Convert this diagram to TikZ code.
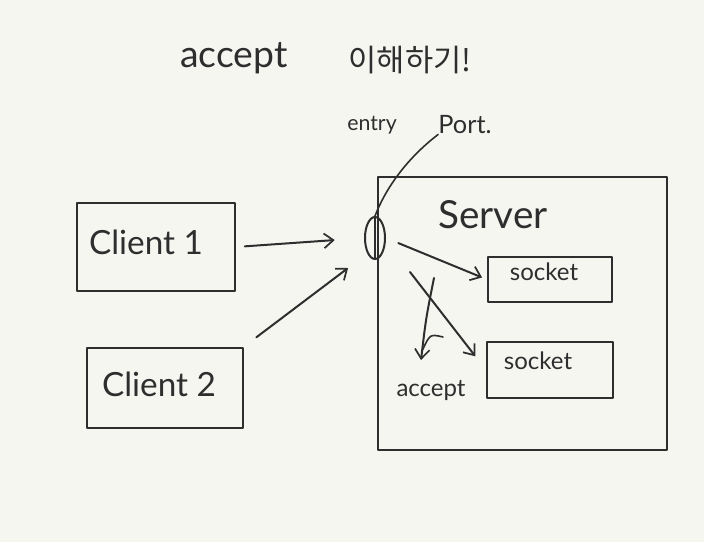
\documentclass[tikz,border=0pt]{standalone}
\usepackage{fontspec}
\setmainfont{Lato}
\newfontfamily\krfont{Noto Sans CJK KR}
\usetikzlibrary{arrows.meta,shapes.geometric}
\definecolor{ink}{HTML}{2E2E2E}
\definecolor{paper}{HTML}{F6F6F1}
\tikzset{
  pen/.style={draw=ink, line width=1.5pt, line cap=round, line join=round},
  boxnode/.style={pen, rectangle, inner sep=0pt},
  arr/.style={pen, -{Straight Barb[length=7pt,width=11pt,line width=1.3pt]}},
  txt/.style={text=ink, inner sep=0pt}
}
\begin{document}
\begin{tikzpicture}[x=0.75pt,y=-0.75pt]
\fill[paper] (0,0) rectangle (704,542);
\useasboundingbox (0,0) rectangle (704,542);

% title
\node[txt, font=\fontsize{28}{30}\selectfont] (title1) at (234,58) {accept};
\node[txt, font=\krfont\fontsize{23}{26}\selectfont] (title2) at (410,60) {이해하기!};

% labels
\node[txt, font=\fontsize{16}{18}\selectfont] (entry) at (372,125) {entry};
\node[txt, font=\fontsize{19}{21}\selectfont] (portlbl) at (465,125) {Port.};

% boxes
\node[boxnode, minimum width=117.8pt, minimum height=65.3pt] (client1) at (156,247) {};
\node[txt, font=\fontsize{25}{27}\selectfont] (c1txt) at (146,242) {Client 1};
\node[boxnode, minimum width=116.3pt, minimum height=60pt] (client2) at (165,388) {};
\node[txt, font=\fontsize{25}{27}\selectfont] (c2txt) at (159,384) {Client 2};

\node[boxnode, minimum width=216.8pt, minimum height=204.8pt] (server) at (522.5,313.5) {};
\node[txt, font=\fontsize{29}{31}\selectfont] (servertxt) at (493,215) {Server};

\node[boxnode, minimum width=93pt, minimum height=33.8pt] (sock1) at (550,279.5) {};
\node[txt, font=\fontsize{18}{20}\selectfont] (s1txt) at (544,272) {socket};
\node[boxnode, minimum width=94.5pt, minimum height=42pt] (sock2) at (550,370) {};
\node[txt, font=\fontsize{18}{20}\selectfont] (s2txt) at (538,361) {socket};

% port
\node[pen, ellipse, minimum width=15pt, minimum height=31.5pt, inner sep=0pt] (port) at (375,238) {};
\coordinate (ptop) at (375,216);
\coordinate (pbot) at (375,258);
\draw[pen, line width=1.1pt] (ptop) -- (pbot);

% pointer from Port. label
\draw[pen, line width=1.2pt] (portlbl.south west) .. controls (405,160) and (385,190) .. (port.north);

% client arrows
\draw[arr, shorten <=7pt, shorten >=22pt] (client1.east) -- (port.west);
\draw[arr, shorten <=12pt, shorten >=18pt] (client2.north east) -- (port.south west);

% internal arrows
\draw[arr, shorten <=10pt, shorten >=4pt] (port.east) -- (sock1.west);
\coordinate (x1) at (410,272);
\draw[arr, shorten >=13pt] (x1) -- (sock2.west);

% accept arrow
\node[txt, font=\fontsize{18}{20}\selectfont] (acclbl) at (431,391) {accept};
\coordinate (x2) at (434,278);
\coordinate (x3) at (421,360);
\draw[arr] (x2) .. controls (426,318) .. (x3);
\coordinate (h1) at (443,337);
\coordinate (h2) at (422.5,350);
\draw[pen, line width=1.2pt] (h1) .. controls (430,334) .. (h2);
\end{tikzpicture}
\end{document}
